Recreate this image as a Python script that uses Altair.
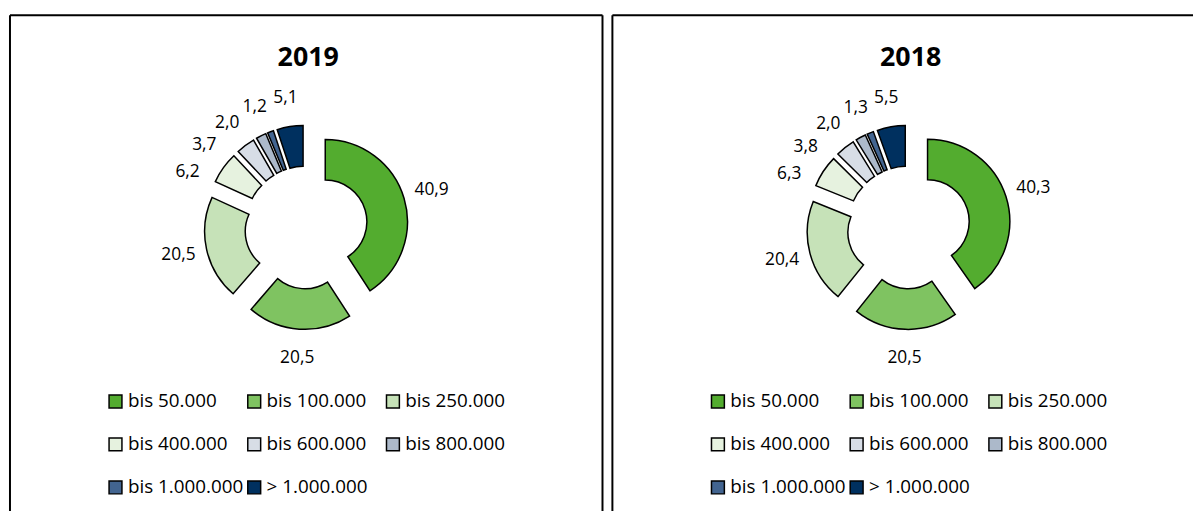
import math
import altair as alt
import pandas as pd

# ---------------- data ----------------
categories = ["bis 50.000", "bis 100.000", "bis 250.000", "bis 400.000",
              "bis 600.000", "bis 800.000", "bis 1.000.000", "> 1.000.000"]
values_2019 = [40.9, 20.5, 20.5, 6.2, 3.7, 2.0, 1.2, 5.1]
values_2018 = [40.3, 20.5, 20.4, 6.3, 3.8, 2.0, 1.3, 5.5]
colors = ["#53AC2F", "#7FC361", "#C6E2B8", "#E6F2DF",
          "#D7DDE6", "#ACB9CA", "#426490", "#00305F"]

# ---------------- layout / style ----------------
FONT = "Open Sans"
H = 505
CX, CY = 299, 214          # donut centre inside each panel
R_OUT, R_IN = 83, 42
EXPLODE = 20
LABEL_R = 132
LABEL_SEP = math.radians(14)  # minimal angular gap between neighbouring labels


def label_angles(values):
    total = sum(values)
    cum, mids = 0.0, []
    for v in values:
        mids.append(2 * math.pi * (cum + v / 2) / total)
        cum += v
    la = mids[:]
    for i in range(len(values) - 2, -1, -1):
        la[i] = min(mids[i], la[i + 1] - LABEL_SEP)
    return la


def panel(year, values, width, right_border):
    df = pd.DataFrame({
        "cat": categories,
        "order": list(range(len(categories))),
        "value": values,
        "lab": [f"{v:.1f}".replace(".", ",") for v in values],
        "la": label_angles(values),
    })
    base = (
        alt.Chart(df)
        .transform_joinaggregate(total="sum(value)")
        .transform_window(cum="sum(value)", sort=[alt.SortField("order")], frame=[None, 0])
        .transform_calculate(
            a0="2 * PI * (datum.cum - datum.value) / datum.total",
            a1="2 * PI * datum.cum / datum.total",
            mid="PI * (2 * datum.cum - datum.value) / datum.total",
        )
        .transform_calculate(
            ex=f"{CX} + {EXPLODE} * sin(datum.mid)",
            ey=f"{CY} - {EXPLODE} * cos(datum.mid)",
            lx=f"{CX} + {LABEL_R} * sin(datum.la)",
            ly=f"{CY} - {LABEL_R} * cos(datum.la)",
        )
    )
    arcs = base.mark_arc(radius=R_OUT, radius2=R_IN, stroke="black",
                         strokeWidth=1.5, opacity=1).encode(
        theta=alt.Theta("a0:Q", scale=None),
        theta2="a1:Q",
        x=alt.X("ex:Q", scale=None, axis=None),
        y=alt.Y("ey:Q", scale=None, axis=None),
        color=alt.Color(
            "cat:N",
            scale=alt.Scale(domain=categories, range=colors),
            legend=alt.Legend(
                orient="none", legendX=97, legendY=380, columns=3,
                direction="horizontal",
                title=None, symbolType="square", symbolSize=169,
                symbolStrokeColor="black", symbolStrokeWidth=1.5,
                symbolOpacity=1, labelFont=FONT, labelFontSize=19,
                labelColor="black", labelOffset=3, rowPadding=23.5,
                columnPadding=1, gridAlign="all", padding=0, labelLimit=300,
            ),
        ),
    )
    labels = base.mark_text(font=FONT, fontSize=17.5, color="black",
                            align="center", baseline="middle").encode(
        x=alt.X("lx:Q", scale=None, axis=None),
        y=alt.Y("ly:Q", scale=None, axis=None),
        text="lab:N",
    )
    one = pd.DataFrame({"t": [year]})
    title = alt.Chart(one).mark_text(font=FONT, fontSize=27, fontWeight="bold",
                                     color="black", align="center",
                                     baseline="middle").encode(
        text="t:N", x=alt.value(301), y=alt.value(43))
    border = alt.Chart(one).mark_rule(color="black", strokeWidth=2)
    layers = [
        border.encode(x=alt.value(0), y=alt.value(0), y2=alt.value(H)),
        border.encode(x=alt.value(0), x2=alt.value(width), y=alt.value(0)),
    ]
    if right_border:
        layers.append(border.encode(x=alt.value(width), y=alt.value(0), y2=alt.value(H)))
    layers += [arcs, labels, title]
    return alt.layer(*layers).properties(width=width, height=H)


chart = (
    alt.hconcat(panel("2019", values_2019, 598, True),
                panel("2018", values_2018, 586, False),
                spacing=10, bounds="flush")
    .resolve_scale(color="independent")
    .configure_view(stroke="transparent")
    .properties(padding={"left": 0, "top": 3, "right": 0, "bottom": 0})
)

chart.save("out.html", embed_options={"renderer": "svg", "actions": False})
